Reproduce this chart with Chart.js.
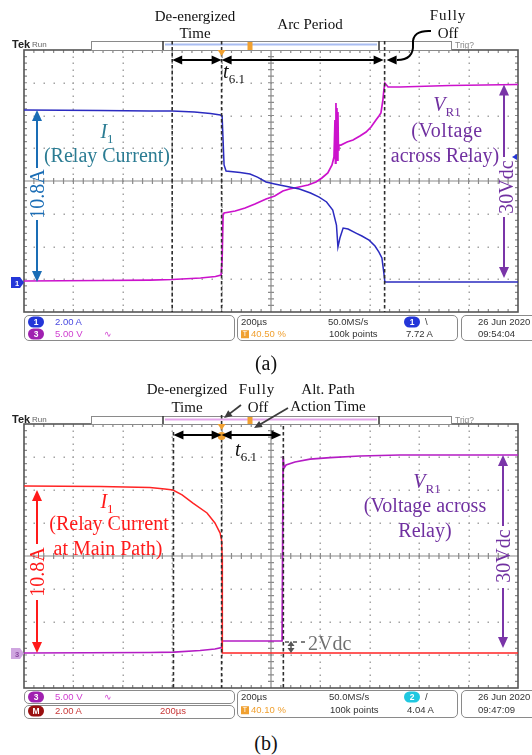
<!DOCTYPE html>
<html><head><meta charset="utf-8">
<script src="https://cdn.jsdelivr.net/npm/chart.js@4.4.1/dist/chart.umd.min.js"></script>
<style>
body{margin:0;background:#fff;}
#wrap{position:relative;width:532px;height:755px;overflow:hidden;background:#fff;}
canvas{position:absolute;left:0;}
.t{position:absolute;white-space:nowrap;line-height:1;}
.box{position:absolute;border:1px solid #8a8a8a;border-radius:5px;box-sizing:border-box;}
</style></head>
<body><div id="wrap">
<canvas id="cA" width="532" height="320" style="top:0"></canvas>
<canvas id="cB" width="532" height="322" style="top:374px"></canvas>
</div>
<script>
// ---------------- DATA (time in µs, 200 µs/div) ----------------
// Panel (a): relay current I1 (A) and voltage VR1 (V)
const timeI_A = [0,310,510,600,690,755,795,802,806,810,818,875,915,945,980,1015,1055,1115,1160,1195,1225,1250,1265,1271,1279,1292,1312,1344,1368,1397,1421,1437,1449,1457,1461,1520,2000];
const current_A = [10.50,10.47,10.44,10.44,10.38,10.29,10.20,10.14,8.67,7.15,6.78,6.69,6.60,6.41,6.11,5.99,5.86,5.68,5.44,5.19,4.89,4.40,3.48,2.14,2.69,3.30,3.24,2.99,2.81,2.56,2.20,1.83,1.47,0.55,0,0,0];
const timeV_A = [0,310,510,600,715,775,798,802,806,810,855,895,935,980,1015,1048,1075,1113,1150,1182,1206,1230,1247,1255,1259,1261,1263,1265,1267,1269,1271,1273,1275,1283,1308,1332,1360,1385,1405,1425,1437,1445,1453,1457,1461,1474,1522,1725,2000];
const voltage_A = [0,0.08,0.15,0.23,0.46,0.69,0.92,3.21,10.08,10.38,10.69,11.15,11.76,12.52,12.98,13.74,14.05,14.35,14.66,15.11,15.73,16.49,17.71,18.93,24.58,18.0,27.18,20.0,26.41,18.47,25.80,20.0,20.76,20.76,21.22,21.53,22.14,22.75,23.51,24.58,25.19,25.65,27.63,29.16,30.23,29.62,29.62,29.85,30.0];
const markers_A = [600,800,1460];   // de-energized, t6.1, fully off

// Panel (b): main-path current I1 (A) and voltage VR1 (V)
const timeI_B = [0,310,510,570,603,640,684,741,773,794,800,802,803,2000];
const current_B = [10.12,10.09,10.03,9.94,9.88,9.58,9.09,8.49,7.88,7.27,6.85,5.94,0,0];
const timeV_B = [0,510,607,713,773,800,802,1045,1049,1053,1061,1097,1158,1239,1360,1522,2000];
const voltage_B = [0,0.08,0.15,0.38,0.61,0.83,1.82,1.82,29.85,28.03,28.48,28.94,29.39,29.62,29.85,30.0,30.0];
const markers_B = [605,800,1050];   // de-energized, fully off, alt. path action

const pts = (ts, vs) => ts.map((t,i)=>({x:t,y:vs[i]}));

// ---------------- helpers ----------------
function seg(ctx,x1,y1,x2,y2){ctx.beginPath();ctx.moveTo(x1,y1);ctx.lineTo(x2,y2);ctx.stroke();}
function head(ctx,x,y,ang,len,wid){
  const c=Math.cos(ang),s=Math.sin(ang);
  ctx.beginPath();ctx.moveTo(x,y);
  ctx.lineTo(x-len*c+wid/2*s,y-len*s-wid/2*c);
  ctx.lineTo(x-len*c-wid/2*s,y-len*s+wid/2*c);
  ctx.closePath();ctx.fill();
}
function arrow(ctx,x1,y1,x2,y2,len,wid,both){
  const ang=Math.atan2(y2-y1,x2-x1),c=Math.cos(ang),s=Math.sin(ang);
  const sx=both?x1+c*len*0.8:x1, sy=both?y1+s*len*0.8:y1;
  seg(ctx,sx,sy,x2-c*len*0.8,y2-s*len*0.8);
  head(ctx,x2,y2,ang,len,wid);
  if(both) head(ctx,x1,y1,ang+Math.PI,len,wid);
}
function topBar(ctx,y,h,col){
  ctx.fillStyle='#fff';ctx.fillRect(91,y,360,h);
  ctx.strokeStyle='#8a8a8a';ctx.lineWidth=1;ctx.strokeRect(91.5,y+0.5,360,h);
  ctx.strokeStyle=col;ctx.lineWidth=2;seg(ctx,165,y+3.5,377,y+3.5);
  ctx.strokeStyle='#333';ctx.lineWidth=1.5;seg(ctx,163,y,163,y+h);seg(ctx,379,y,379,y+h);
  ctx.fillStyle='#f0a030';ctx.fillRect(247.5,y+1,5,h-1);
}
function dashed(ctx,xs,tops,bottom){
  ctx.save();ctx.strokeStyle='#2e2e2e';ctx.lineWidth=1.6;ctx.setLineDash([3.5,2.5]);
  xs.forEach((px,i)=>seg(ctx,px,tops[i],px,bottom));ctx.restore();
}
function vArrowGap(ctx,x,yTop,yBot,g1,g2,col){
  ctx.strokeStyle=ctx.fillStyle=col;ctx.lineWidth=2;
  arrow(ctx,x,g1,x,yTop,11,10,false);
  arrow(ctx,x,g2,x,yBot,11,10,false);
}
function trigMarker(ctx,x,y){
  ctx.fillStyle='#f0a030';
  ctx.beginPath();ctx.moveTo(x-4,y);ctx.lineTo(x+4,y);ctx.lineTo(x,y+6);ctx.closePath();ctx.fill();
}

const graticule={id:'grat',beforeDatasetsDraw(chart){
  const {ctx,chartArea:a}=chart;const L=a.left,R=a.right,T=a.top,B=a.bottom;
  const dx=(R-L)/10,dy=(B-T)/8;
  ctx.save();
  ctx.fillStyle='#a4a4a4';
  for(let i=1;i<10;i++){if(i===5)continue;const x=Math.round(L+i*dx);
    for(let j=1;j<40;j++)ctx.fillRect(x-0.5,Math.round(T+j*dy/5)-0.5,1.5,1.5);}
  for(let i=1;i<8;i++){if(i===4)continue;const y=Math.round(T+i*dy);
    for(let j=1;j<50;j++)ctx.fillRect(Math.round(L+j*dx/5)-0.5,y-0.5,1.5,1.5);}
  const cx=L+5*dx,cy=T+4*dy;
  ctx.strokeStyle='#8a8a8a';ctx.lineWidth=1.2;ctx.beginPath();
  ctx.moveTo(L,cy);ctx.lineTo(R,cy);ctx.moveTo(cx,T);ctx.lineTo(cx,B);
  for(let j=1;j<50;j++){const x=L+j*dx/5;ctx.moveTo(x,cy-3);ctx.lineTo(x,cy+3);ctx.moveTo(x,T);ctx.lineTo(x,T+3);ctx.moveTo(x,B);ctx.lineTo(x,B-3);}
  for(let j=1;j<40;j++){const y=T+j*dy/5;ctx.moveTo(cx-3,y);ctx.lineTo(cx+3,y);ctx.moveTo(L,y);ctx.lineTo(L+3,y);ctx.moveTo(R,y);ctx.lineTo(R-3,y);}
  ctx.stroke();
  ctx.strokeStyle='#555';ctx.lineWidth=1.6;ctx.strokeRect(L,T,R-L,B-T);
  ctx.restore();
}};

const annotA={id:'annA',afterDraw(chart){
  const {ctx,chartArea:a,scales:{x,yI,yV}}=chart;
  const mx=markers_A.map(t=>x.getPixelForValue(t));
  ctx.save();
  topBar(ctx,41,9,'#a9bdf2');
  dashed(ctx,mx,[41,41,41],a.bottom);
  trigMarker(ctx,mx[1],50);
  ctx.strokeStyle=ctx.fillStyle='#000';ctx.lineWidth=2;
  arrow(ctx,mx[0],60,mx[1],60,10,9,true);
  arrow(ctx,mx[1],60,mx[2]-1,60,10,9,true);
  // curved "Fully Off" arrow
  ctx.beginPath();ctx.moveTo(431,31);ctx.quadraticCurveTo(412,30,413,44);
  ctx.quadraticCurveTo(414,60,397,60);ctx.stroke();
  head(ctx,mx[2]+2,60,Math.PI,10,9);
  // ground tag ch1
  ctx.fillStyle='#2436d8';ctx.beginPath();ctx.moveTo(11,277);ctx.lineTo(20,277);ctx.lineTo(24,282.5);ctx.lineTo(20,288);ctx.lineTo(11,288);ctx.closePath();ctx.fill();
  // trigger level marker
  ctx.fillStyle='#2436d8';ctx.beginPath();ctx.moveTo(512,157);ctx.lineTo(517,154);ctx.lineTo(517,160);ctx.closePath();ctx.fill();
  // amplitude arrows
  vArrowGap(ctx,37,yI.getPixelForValue(current_A[0]),yI.getPixelForValue(0),168,220,'#1a6db5');
  vArrowGap(ctx,504,yV.getPixelForValue(30),yV.getPixelForValue(0)-3,157,217,'#7a35a8');
  ctx.restore();
}};

const TOPB=374;
const annotB={id:'annB',afterDraw(chart){
  const {ctx,chartArea:a,scales:{x,yI,yV}}=chart;
  const mx=markers_B.map(t=>x.getPixelForValue(t));
  ctx.save();ctx.translate(0,-TOPB);
  topBar(ctx,416,8,'#e4a6ea');
  dashed(ctx,mx,[432,415,426],a.bottom+TOPB);
  trigMarker(ctx,mx[1],424);
  ctx.fillStyle='#f0a030';ctx.beginPath();ctx.arc(mx[1],436,4,0,Math.PI*2);ctx.fill();
  ctx.strokeStyle=ctx.fillStyle='#000';ctx.lineWidth=2;
  arrow(ctx,mx[0],435,mx[1],435,10,9,true);
  arrow(ctx,mx[1],435,mx[2]-2,435,10,9,true);
  // gray pointer arrows
  ctx.strokeStyle=ctx.fillStyle='#3c3c3c';ctx.lineWidth=1.8;
  arrow(ctx,241,405,224,418,8,7,false);
  arrow(ctx,288,408,254,428,8,7,false);
  // ground tag ch3
  ctx.fillStyle='#cfa6e0';ctx.beginPath();ctx.moveTo(11,648);ctx.lineTo(20,648);ctx.lineTo(24,653.5);ctx.lineTo(20,659);ctx.lineTo(11,659);ctx.closePath();ctx.fill();
  // amplitude arrows
  vArrowGap(ctx,37,yI.getPixelForValue(current_B[0])+4+TOPB,yI.getPixelForValue(0)+TOPB,544,600,'#ff1a1a');
  vArrowGap(ctx,503,yV.getPixelForValue(30)+TOPB,yV.getPixelForValue(0)-5+TOPB,526,588,'#7a35a8');
  // 2 Vdc marker
  const y2=yV.getPixelForValue(voltage_B[6])+TOPB, y0=yV.getPixelForValue(0)+TOPB;
  ctx.strokeStyle=ctx.fillStyle='#555';ctx.lineWidth=1.5;
  arrow(ctx,291,(y2+y0)/2,291,y2,5,7,false);arrow(ctx,291,(y2+y0)/2,291,y0,5,7,false);
  ctx.setLineDash([4,4]);seg(ctx,285,y2+1,305,y2+1);ctx.setLineDash([]);
  ctx.restore();
}};

function makeChart(id,ti,ci,tv,vv,iCol,vCol,iRange,vRange,pad,ann){
  return new Chart(document.getElementById(id),{
    type:'line',
    data:{datasets:[
      {data:pts(ti,ci),yAxisID:'yI',borderColor:iCol,borderWidth:1.5,pointRadius:0,tension:0},
      {data:pts(tv,vv),yAxisID:'yV',borderColor:vCol,borderWidth:1.7,pointRadius:0,tension:0}
    ]},
    options:{responsive:false,animation:false,devicePixelRatio:1,events:[],
      layout:{padding:pad},
      plugins:{legend:{display:false},tooltip:{enabled:false}},
      scales:{x:{type:'linear',min:0,max:2000,display:false},
        yI:{min:iRange[0],max:iRange[1],display:false},
        yV:{min:vRange[0],max:vRange[1],display:false}}},
    plugins:[graticule,ann]
  });
}
makeChart('cA',timeI_A,current_A,timeV_A,voltage_A,'#2b2bc0','#cc12cc',[-1.83,14.17],[-4.73,35.27],{left:24,right:14,top:50,bottom:8},annotA);
makeChart('cB',timeI_B,current_B,timeV_B,voltage_B,'#ff2424','#b41cc4',[-2.12,13.88],[-5.30,34.70],{left:24,right:14,top:50,bottom:8},annotB);

// ---------------- text overlays ----------------
const W=document.getElementById('wrap');
function put(x,y,html,css,mode){
  const d=document.createElement('div');d.className='t';d.innerHTML=html;d.style.cssText=css;
  d.style.left=x+'px';d.style.top=y+'px';
  d.style.transform=mode==='l'?'translate(0,-50%)':mode==='r'?'translate(-50%,-50%) rotate(-90deg)':'translate(-50%,-50%)';
  W.appendChild(d);return d;
}
function box(x,y,w,h){const d=document.createElement('div');d.className='box';
  d.style.cssText=`left:${x}px;top:${y}px;width:${w}px;height:${h}px;`;W.appendChild(d);}
const SER='font-family:"Liberation Serif","Times New Roman",serif;';
const S15=SER+'font-size:15px;color:#111;';
const S20=SER+'font-size:20px;';
const SANS='font-family:"Liberation Sans",Arial,sans-serif;font-size:9.5px;color:#333;';
const sub=(t)=>`<span style="font-size:13px;position:relative;top:5px;font-style:normal">${t}</span>`;
function badge(x,cy,label,bg,fg){put(x,cy,label,`width:16px;height:11px;border-radius:6px;background:${bg};color:${fg||'#fff'};font:bold 8.5px "Liberation Sans",sans-serif;text-align:center;line-height:11px;`,'l');}
const tsq='<span style="display:inline-block;width:8px;height:8px;background:#f0a030;color:#fff;font-size:7px;line-height:8px;text-align:center;vertical-align:middle;margin-right:2px">T</span>';

// ---- panel (a) ----
put(12,44,'Tek','font:bold 11px "Liberation Sans",sans-serif;color:#222;','l');
put(32,44,'Run','font:8px "Liberation Sans",sans-serif;color:#666;','l');
put(455,45,'Trig?','font:8.5px "Liberation Sans",sans-serif;color:#888;','l');
put(195,16,'De-energized',S15);
put(195,33,'Time',S15);
put(310,24,'Arc Period',S15);
put(448,15,'Fully',S15+'letter-spacing:1px;');
put(448,33,'Off',S15);
put(234,71,'<i>t</i>'+sub('6.1'),S20+'color:#111;');
put(107,131,'<i>I</i>'+sub('1'),S20+'color:#2b7c93;');
put(107,155,'(Relay Current)',S20+'color:#2b7c93;');
put(37,194,'10.8A',S20+'color:#1a6db5;','r');
put(447,104,'<i>V</i>'+sub('R1'),S20+'color:#7030a0;');
put(447,130,'(Voltage',S20+'color:#7030a0;letter-spacing:0.5px;');
put(445,155,'across Relay)',S20+'color:#7030a0;');
put(506,187,'30Vdc',S20+'color:#7030a0;','r');
put(17,282.5,'1','font:bold 7.5px "Liberation Sans",sans-serif;color:#fff;');
box(24,315,211,26);box(237,315,221,26);box(461,315,80,26);
badge(28,322,'1','#2436d8');put(55,322,'2.00 A',SANS+'color:#4848e0;','l');
badge(28,334,'3','#a020b0');put(55,334,'5.00 V',SANS+'color:#d040d0;','l');put(104,334,'∿',SANS+'color:#d040d0;font-size:9px;','l');
put(241,322,'200µs',SANS,'l');put(328,322,'50.0MS/s',SANS,'l');badge(404,322,'1','#2436d8');put(425,322,'\\',SANS,'l');
put(241,334,tsq+'<span style="color:#f0a030">40.50 %</span>',SANS,'l');put(329,334,'100k points',SANS,'l');put(406,334,'7.72 A',SANS,'l');
put(478,322,'26 Jun  2020',SANS,'l');put(478,334,'09:54:04',SANS,'l');
put(266,363,'(a)',S20+'color:#111;');

// ---- panel (b) ----
put(12,419,'Tek','font:bold 11px "Liberation Sans",sans-serif;color:#222;','l');
put(32,419,'Run','font:8px "Liberation Sans",sans-serif;color:#666;','l');
put(455,420,'Trig?','font:8.5px "Liberation Sans",sans-serif;color:#888;','l');
put(187,389,'De-energized',S15);
put(187,407,'Time',S15);
put(257,389,'Fully',S15+'letter-spacing:1px;');
put(258,407,'Off',S15);
put(328,389,'Alt. Path',S15);
put(328,406,'Action Time',S15);
put(246,449,'<i>t</i>'+sub('6.1'),S20+'color:#111;');
put(107,501,'<i>I</i>'+sub('1'),S20+'color:#ff1a1a;');
put(109,523,'(Relay Current',S20+'color:#ff1a1a;');
put(108,548,'at Main Path)',S20+'color:#ff1a1a;');
put(37,572,'10.8A',S20+'color:#ff1a1a;','r');
put(427,481,'<i>V</i>'+sub('R1'),S20+'color:#7030a0;');
put(425,505,'(Voltage across',S20+'color:#7030a0;');
put(425,530,'Relay)',S20+'color:#7030a0;');
put(503,556,'30Vdc',S20+'color:#7030a0;','r');
put(308,643,'2Vdc',S20+'color:#707070;','l');
put(17,653.5,'3','font:bold 7.5px "Liberation Sans",sans-serif;color:#8a4aa0;');
box(24,690,211,14);box(24,705,211,13.5);box(237,690,221,28);box(461,690,80,28);
badge(28,697,'3','#a020b0');put(55,697,'5.00 V',SANS+'color:#d040d0;','l');put(104,697,'∿',SANS+'color:#d040d0;font-size:9px;','l');
badge(28,711,'M','#9a1010');put(55,711,'2.00 A',SANS+'color:#c83838;','l');put(160,711,'200µs',SANS+'color:#c83838;','l');
put(241,697,'200µs',SANS,'l');put(329,697,'50.0MS/s',SANS,'l');badge(404,697,'2','#20c8e0');put(425,697,'/',SANS,'l');
put(241,710,tsq+'<span style="color:#f0a030">40.10 %</span>',SANS,'l');put(330,710,'100k points',SANS,'l');put(407,710,'4.04 A',SANS,'l');
put(478,697,'26 Jun  2020',SANS,'l');put(478,710,'09:47:09',SANS,'l');
put(266,743,'(b)',S20+'color:#111;');
</script>
</body></html>
